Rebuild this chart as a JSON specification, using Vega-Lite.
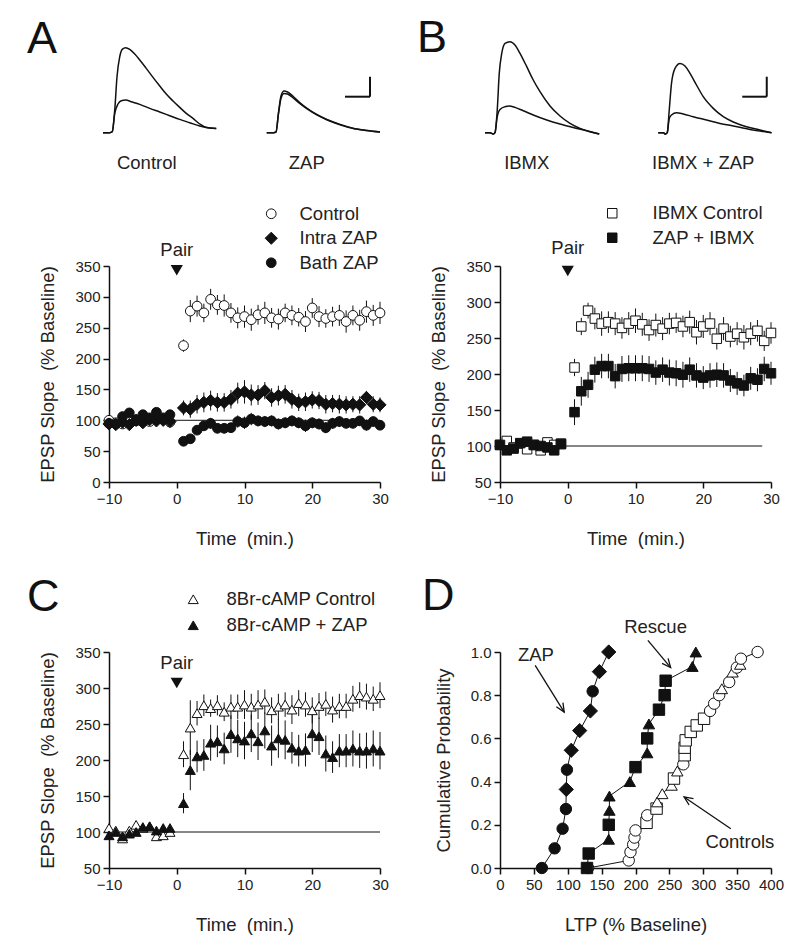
{
 "$schema": "https://vega.github.io/schema/vega-lite/v6.json",
 "background": "white",
 "padding": {"left": 27, "top": 15, "right": 5, "bottom": 5},
 "bounds": "flush",
 "columns": 2,
 "spacing": {"row": 170, "column": 120},
 "resolve": {"scale": {"shape": "independent", "fill": "independent", "stroke": "independent"}, "legend": {"shape": "independent", "fill": "independent", "stroke": "independent"}},
 "config": {
  "font": "Liberation Sans",
  "view": {"stroke": null},
  "axis": {"grid": false, "domainColor": "#111", "domainWidth": 1.5, "tickColor": "#111", "tickWidth": 1.5, "tickSize": 6, "labelFontSize": 15, "labelColor": "#222", "labelPadding": 3, "titleFontSize": 18.5, "titleFontWeight": "normal", "titleColor": "#222", "labelFont": "Liberation Sans", "titleFont": "Liberation Sans", "labelFlush": false, "labelOverlap": false, "labelBound": false},
  "axisX": {"titlePadding": 23},
  "axisY": {"titlePadding": 17},
  "legend": {"labelFontSize": 18.5, "labelColor": "#222", "labelFont": "Liberation Sans", "padding": 0, "symbolStrokeWidth": 1, "orient": "none", "direction": "vertical"},
  "title": {"fontSize": 45, "fontWeight": "normal", "color": "#111", "anchor": "start", "frame": "group", "baseline": "alphabetic", "font": "Liberation Sans"},
  "text": {"font": "Liberation Sans", "fontSize": 18.5, "color": "#222"}
 },
 "datasets": {
  "tr": [
   {"c":"Control","k":"post","t":0,"v":0},{"c":"Control","k":"post","t":2.7,"v":0},{"c":"Control","k":"post","t":3.7,"v":0.1},{"c":"Control","k":"post","t":4.7,"v":2.27},{"c":"Control","k":"post","t":5.6,"v":5.6},{"c":"Control","k":"post","t":6.7,"v":7.6},{"c":"Control","k":"post","t":7.7,"v":8.33},{"c":"Control","k":"post","t":9.1,"v":8.5},{"c":"Control","k":"post","t":10.7,"v":8.33},{"c":"Control","k":"post","t":12.7,"v":7.87},{"c":"Control","k":"post","t":14.7,"v":7.27},{"c":"Control","k":"post","t":17.3,"v":6.43},{"c":"Control","k":"post","t":20,"v":5.53},{"c":"Control","k":"post","t":22.7,"v":4.67},{"c":"Control","k":"post","t":25.3,"v":3.87},{"c":"Control","k":"post","t":28,"v":3.17},{"c":"Control","k":"post","t":30.7,"v":2.53},{"c":"Control","k":"post","t":33.3,"v":1.93},{"c":"Control","k":"post","t":36,"v":1.43},{"c":"Control","k":"post","t":38.7,"v":0.87},{"c":"Control","k":"post","t":41.3,"v":0.53},{"c":"Control","k":"post","t":45.3,"v":0.43},
   {"c":"Control","k":"pre","t":0,"v":0},{"c":"Control","k":"pre","t":2.7,"v":0},{"c":"Control","k":"pre","t":3.7,"v":0.1},{"c":"Control","k":"pre","t":4.7,"v":1.93},{"c":"Control","k":"pre","t":6,"v":2.87},{"c":"Control","k":"pre","t":7.3,"v":3.2},{"c":"Control","k":"pre","t":9.1,"v":3.27},{"c":"Control","k":"pre","t":11.3,"v":3.1},{"c":"Control","k":"pre","t":14.7,"v":2.83},{"c":"Control","k":"pre","t":18.7,"v":2.43},{"c":"Control","k":"pre","t":22.7,"v":2.07},{"c":"Control","k":"pre","t":26.7,"v":1.7},{"c":"Control","k":"pre","t":30.7,"v":1.33},{"c":"Control","k":"pre","t":34.7,"v":1.0},{"c":"Control","k":"pre","t":38.7,"v":0.67},{"c":"Control","k":"pre","t":42.7,"v":0.47},{"c":"Control","k":"pre","t":45.3,"v":0.43},
   {"c":"ZAP","k":"post","t":0,"v":0},{"c":"ZAP","k":"post","t":2.7,"v":0},{"c":"ZAP","k":"post","t":3.7,"v":0.07},{"c":"ZAP","k":"post","t":4.7,"v":2},{"c":"ZAP","k":"post","t":5.7,"v":3.67},{"c":"ZAP","k":"post","t":6.9,"v":4.17},{"c":"ZAP","k":"post","t":8.3,"v":4.07},{"c":"ZAP","k":"post","t":10.7,"v":3.6},{"c":"ZAP","k":"post","t":13.3,"v":3.0},{"c":"ZAP","k":"post","t":16,"v":2.47},{"c":"ZAP","k":"post","t":20,"v":1.83},{"c":"ZAP","k":"post","t":24,"v":1.33},{"c":"ZAP","k":"post","t":29.3,"v":0.83},{"c":"ZAP","k":"post","t":34.7,"v":0.43},{"c":"ZAP","k":"post","t":40,"v":0.23},{"c":"ZAP","k":"post","t":45.3,"v":0.07},
   {"c":"ZAP","k":"pre","t":0,"v":0},{"c":"ZAP","k":"pre","t":2.7,"v":0},{"c":"ZAP","k":"pre","t":3.7,"v":0.07},{"c":"ZAP","k":"pre","t":4.7,"v":1.9},{"c":"ZAP","k":"pre","t":5.7,"v":3.45},{"c":"ZAP","k":"pre","t":6.9,"v":3.93},{"c":"ZAP","k":"pre","t":8.3,"v":3.87},{"c":"ZAP","k":"pre","t":10.7,"v":3.45},{"c":"ZAP","k":"pre","t":13.3,"v":2.9},{"c":"ZAP","k":"pre","t":16,"v":2.4},{"c":"ZAP","k":"pre","t":20,"v":1.78},{"c":"ZAP","k":"pre","t":24,"v":1.3},{"c":"ZAP","k":"pre","t":29.3,"v":0.8},{"c":"ZAP","k":"pre","t":34.7,"v":0.42},{"c":"ZAP","k":"pre","t":40,"v":0.22},{"c":"ZAP","k":"pre","t":45.3,"v":0.07},
   {"c":"IBMX","k":"post","t":0,"v":0},{"c":"IBMX","k":"post","t":2,"v":0},{"c":"IBMX","k":"post","t":3.3,"v":-0.13},{"c":"IBMX","k":"post","t":4,"v":0},{"c":"IBMX","k":"post","t":4.9,"v":2.27},{"c":"IBMX","k":"post","t":5.7,"v":5.93},{"c":"IBMX","k":"post","t":6.7,"v":7.93},{"c":"IBMX","k":"post","t":8,"v":8.93},{"c":"IBMX","k":"post","t":10,"v":9.1},{"c":"IBMX","k":"post","t":12,"v":8.77},{"c":"IBMX","k":"post","t":14,"v":7.93},{"c":"IBMX","k":"post","t":16.7,"v":6.6},{"c":"IBMX","k":"post","t":19.3,"v":5.27},{"c":"IBMX","k":"post","t":22,"v":4.1},{"c":"IBMX","k":"post","t":26,"v":2.67},{"c":"IBMX","k":"post","t":30,"v":1.67},{"c":"IBMX","k":"post","t":34,"v":0.93},{"c":"IBMX","k":"post","t":38,"v":0.43},{"c":"IBMX","k":"post","t":42,"v":0.1},{"c":"IBMX","k":"post","t":45.7,"v":-0.13},
   {"c":"IBMX","k":"pre","t":0,"v":0},{"c":"IBMX","k":"pre","t":2,"v":0},{"c":"IBMX","k":"pre","t":3.3,"v":-0.13},{"c":"IBMX","k":"pre","t":4,"v":0},{"c":"IBMX","k":"pre","t":4.9,"v":1.6},{"c":"IBMX","k":"pre","t":6,"v":2.33},{"c":"IBMX","k":"pre","t":8,"v":2.6},{"c":"IBMX","k":"pre","t":9.7,"v":2.67},{"c":"IBMX","k":"pre","t":12,"v":2.53},{"c":"IBMX","k":"pre","t":15.3,"v":2.2},{"c":"IBMX","k":"pre","t":19.3,"v":1.77},{"c":"IBMX","k":"pre","t":24.7,"v":1.27},{"c":"IBMX","k":"pre","t":30,"v":0.87},{"c":"IBMX","k":"pre","t":35.3,"v":0.53},{"c":"IBMX","k":"pre","t":40.7,"v":0.2},{"c":"IBMX","k":"pre","t":45.7,"v":-0.13},
   {"c":"IBMX + ZAP","k":"post","t":0,"v":0},{"c":"IBMX + ZAP","k":"post","t":2,"v":0},{"c":"IBMX + ZAP","k":"post","t":2.9,"v":-0.13},{"c":"IBMX + ZAP","k":"post","t":3.6,"v":0},{"c":"IBMX + ZAP","k":"post","t":4.4,"v":2.27},{"c":"IBMX + ZAP","k":"post","t":5.3,"v":4.93},{"c":"IBMX + ZAP","k":"post","t":6.7,"v":6.43},{"c":"IBMX + ZAP","k":"post","t":8.7,"v":6.93},{"c":"IBMX + ZAP","k":"post","t":10.7,"v":6.67},{"c":"IBMX + ZAP","k":"post","t":12.7,"v":5.93},{"c":"IBMX + ZAP","k":"post","t":15.3,"v":4.77},{"c":"IBMX + ZAP","k":"post","t":18,"v":3.6},{"c":"IBMX + ZAP","k":"post","t":22,"v":2.43},{"c":"IBMX + ZAP","k":"post","t":26,"v":1.6},{"c":"IBMX + ZAP","k":"post","t":30,"v":1.07},{"c":"IBMX + ZAP","k":"post","t":35.3,"v":0.6},{"c":"IBMX + ZAP","k":"post","t":40.7,"v":0.27},{"c":"IBMX + ZAP","k":"post","t":45.3,"v":0},
   {"c":"IBMX + ZAP","k":"pre","t":0,"v":0},{"c":"IBMX + ZAP","k":"pre","t":2,"v":0},{"c":"IBMX + ZAP","k":"pre","t":2.9,"v":-0.13},{"c":"IBMX + ZAP","k":"pre","t":3.6,"v":0},{"c":"IBMX + ZAP","k":"pre","t":4.4,"v":1.43},{"c":"IBMX + ZAP","k":"pre","t":5.3,"v":1.77},{"c":"IBMX + ZAP","k":"pre","t":7.3,"v":2},{"c":"IBMX + ZAP","k":"pre","t":10,"v":1.87},{"c":"IBMX + ZAP","k":"pre","t":14,"v":1.6},{"c":"IBMX + ZAP","k":"pre","t":19.3,"v":1.27},{"c":"IBMX + ZAP","k":"pre","t":24.7,"v":0.93},{"c":"IBMX + ZAP","k":"pre","t":30,"v":0.67},{"c":"IBMX + ZAP","k":"pre","t":36.7,"v":0.33},{"c":"IBMX + ZAP","k":"pre","t":45.3,"v":0}
  ],
  "a": [
   {"s":"Control","t":-10,"v":100,"e":4},{"s":"Control","t":-9,"v":96,"e":4},{"s":"Control","t":-8,"v":94,"e":4},{"s":"Control","t":-7,"v":103,"e":4},{"s":"Control","t":-6,"v":99,"e":4},{"s":"Control","t":-5,"v":101,"e":4},{"s":"Control","t":-4,"v":98,"e":4},{"s":"Control","t":-3,"v":102,"e":4},{"s":"Control","t":-2,"v":104,"e":4},{"s":"Control","t":-1,"v":97,"e":4},
   {"s":"Control","t":1,"v":221,"e":10},{"s":"Control","t":2,"v":277,"e":18},{"s":"Control","t":3,"v":285,"e":17},{"s":"Control","t":4,"v":274,"e":15},{"s":"Control","t":5,"v":296,"e":17},{"s":"Control","t":6,"v":287,"e":16},{"s":"Control","t":7,"v":286,"e":18},{"s":"Control","t":8,"v":274,"e":16},{"s":"Control","t":9,"v":266,"e":17},{"s":"Control","t":10,"v":268,"e":18},{"s":"Control","t":11,"v":263,"e":18},{"s":"Control","t":12,"v":271,"e":16},{"s":"Control","t":13,"v":274,"e":18},{"s":"Control","t":14,"v":266,"e":16},{"s":"Control","t":15,"v":264,"e":17},{"s":"Control","t":16,"v":274,"e":15},{"s":"Control","t":17,"v":270,"e":16},{"s":"Control","t":18,"v":267,"e":15},{"s":"Control","t":19,"v":260,"e":17},{"s":"Control","t":20,"v":282,"e":16},{"s":"Control","t":21,"v":268,"e":17},{"s":"Control","t":22,"v":265,"e":15},{"s":"Control","t":23,"v":268,"e":16},{"s":"Control","t":24,"v":270,"e":17},{"s":"Control","t":25,"v":260,"e":18},{"s":"Control","t":26,"v":270,"e":16},{"s":"Control","t":27,"v":262,"e":17},{"s":"Control","t":28,"v":276,"e":18},{"s":"Control","t":29,"v":270,"e":17},{"s":"Control","t":30,"v":274,"e":18},
   {"s":"Intra ZAP","t":-10,"v":94,"e":5},{"s":"Intra ZAP","t":-9,"v":93,"e":5},{"s":"Intra ZAP","t":-8,"v":97,"e":5},{"s":"Intra ZAP","t":-7,"v":93,"e":5},{"s":"Intra ZAP","t":-6,"v":100,"e":5},{"s":"Intra ZAP","t":-5,"v":96,"e":5},{"s":"Intra ZAP","t":-4,"v":101,"e":5},{"s":"Intra ZAP","t":-3,"v":99,"e":5},{"s":"Intra ZAP","t":-2,"v":100,"e":5},{"s":"Intra ZAP","t":-1,"v":98,"e":5},
   {"s":"Intra ZAP","t":1,"v":120,"e":12},{"s":"Intra ZAP","t":2,"v":118,"e":14},{"s":"Intra ZAP","t":3,"v":126,"e":15},{"s":"Intra ZAP","t":4,"v":129,"e":16},{"s":"Intra ZAP","t":5,"v":132,"e":16},{"s":"Intra ZAP","t":6,"v":129,"e":15},{"s":"Intra ZAP","t":7,"v":129,"e":15},{"s":"Intra ZAP","t":8,"v":134,"e":15},{"s":"Intra ZAP","t":9,"v":144,"e":17},{"s":"Intra ZAP","t":10,"v":146,"e":19},{"s":"Intra ZAP","t":11,"v":141,"e":17},{"s":"Intra ZAP","t":12,"v":141,"e":16},{"s":"Intra ZAP","t":13,"v":148,"e":14},{"s":"Intra ZAP","t":14,"v":137,"e":15},{"s":"Intra ZAP","t":15,"v":140,"e":16},{"s":"Intra ZAP","t":16,"v":142,"e":15},{"s":"Intra ZAP","t":17,"v":134,"e":15},{"s":"Intra ZAP","t":18,"v":129,"e":14},{"s":"Intra ZAP","t":19,"v":130,"e":15},{"s":"Intra ZAP","t":20,"v":133,"e":14},{"s":"Intra ZAP","t":21,"v":132,"e":14},{"s":"Intra ZAP","t":22,"v":126,"e":15},{"s":"Intra ZAP","t":23,"v":127,"e":14},{"s":"Intra ZAP","t":24,"v":126,"e":15},{"s":"Intra ZAP","t":25,"v":125,"e":14},{"s":"Intra ZAP","t":26,"v":126,"e":13},{"s":"Intra ZAP","t":27,"v":125,"e":14},{"s":"Intra ZAP","t":28,"v":137,"e":10},{"s":"Intra ZAP","t":29,"v":126,"e":13},{"s":"Intra ZAP","t":30,"v":125,"e":12},
   {"s":"Bath ZAP","t":-10,"v":95,"e":6},{"s":"Bath ZAP","t":-9,"v":94,"e":6},{"s":"Bath ZAP","t":-8,"v":106,"e":6},{"s":"Bath ZAP","t":-7,"v":112,"e":6},{"s":"Bath ZAP","t":-6,"v":101,"e":6},{"s":"Bath ZAP","t":-5,"v":109,"e":6},{"s":"Bath ZAP","t":-4,"v":104,"e":6},{"s":"Bath ZAP","t":-3,"v":113,"e":6},{"s":"Bath ZAP","t":-2,"v":103,"e":6},{"s":"Bath ZAP","t":-1,"v":109,"e":6},
   {"s":"Bath ZAP","t":1,"v":66,"e":5},{"s":"Bath ZAP","t":2,"v":70,"e":5},{"s":"Bath ZAP","t":3,"v":84,"e":6},{"s":"Bath ZAP","t":4,"v":91,"e":8},{"s":"Bath ZAP","t":5,"v":95,"e":9},{"s":"Bath ZAP","t":6,"v":87,"e":8},{"s":"Bath ZAP","t":7,"v":87,"e":8},{"s":"Bath ZAP","t":8,"v":88,"e":8},{"s":"Bath ZAP","t":9,"v":98,"e":10},{"s":"Bath ZAP","t":10,"v":96,"e":10},{"s":"Bath ZAP","t":11,"v":102,"e":10},{"s":"Bath ZAP","t":12,"v":99,"e":9},{"s":"Bath ZAP","t":13,"v":98,"e":9},{"s":"Bath ZAP","t":14,"v":99,"e":9},{"s":"Bath ZAP","t":15,"v":94,"e":9},{"s":"Bath ZAP","t":16,"v":96,"e":9},{"s":"Bath ZAP","t":17,"v":99,"e":9},{"s":"Bath ZAP","t":18,"v":96,"e":9},{"s":"Bath ZAP","t":19,"v":91,"e":10},{"s":"Bath ZAP","t":20,"v":96,"e":9},{"s":"Bath ZAP","t":21,"v":94,"e":9},{"s":"Bath ZAP","t":22,"v":88,"e":9},{"s":"Bath ZAP","t":23,"v":95,"e":9},{"s":"Bath ZAP","t":24,"v":98,"e":9},{"s":"Bath ZAP","t":25,"v":95,"e":8},{"s":"Bath ZAP","t":26,"v":95,"e":8},{"s":"Bath ZAP","t":27,"v":99,"e":8},{"s":"Bath ZAP","t":28,"v":92,"e":9},{"s":"Bath ZAP","t":29,"v":98,"e":8},{"s":"Bath ZAP","t":30,"v":92,"e":8}
  ],
  "b": [
   {"s":"IBMX Control","t":-10,"v":101.5,"e":4},{"s":"IBMX Control","t":-9,"v":107,"e":4},{"s":"IBMX Control","t":-8,"v":98,"e":4},{"s":"IBMX Control","t":-7,"v":103.4,"e":4},{"s":"IBMX Control","t":-6,"v":95.5,"e":4},{"s":"IBMX Control","t":-5,"v":101.5,"e":4},{"s":"IBMX Control","t":-4,"v":94,"e":4},{"s":"IBMX Control","t":-3,"v":105,"e":4},{"s":"IBMX Control","t":-2,"v":101.5,"e":4},{"s":"IBMX Control","t":-1,"v":103.4,"e":4},
   {"s":"IBMX Control","t":1,"v":209,"e":12},{"s":"IBMX Control","t":2,"v":266,"e":12},{"s":"IBMX Control","t":3,"v":288,"e":11},{"s":"IBMX Control","t":4,"v":277,"e":15},{"s":"IBMX Control","t":5,"v":270,"e":17},{"s":"IBMX Control","t":6,"v":272,"e":15},{"s":"IBMX Control","t":7,"v":270,"e":16},{"s":"IBMX Control","t":8,"v":264,"e":15},{"s":"IBMX Control","t":9,"v":270,"e":16},{"s":"IBMX Control","t":10,"v":274,"e":17},{"s":"IBMX Control","t":11,"v":269,"e":16},{"s":"IBMX Control","t":12,"v":261,"e":15},{"s":"IBMX Control","t":13,"v":268,"e":16},{"s":"IBMX Control","t":14,"v":263,"e":16},{"s":"IBMX Control","t":15,"v":270,"e":15},{"s":"IBMX Control","t":16,"v":271,"e":14},{"s":"IBMX Control","t":17,"v":266,"e":15},{"s":"IBMX Control","t":18,"v":272,"e":16},{"s":"IBMX Control","t":19,"v":258,"e":17},{"s":"IBMX Control","t":20,"v":266,"e":16},{"s":"IBMX Control","t":21,"v":270,"e":16},{"s":"IBMX Control","t":22,"v":249,"e":15},{"s":"IBMX Control","t":23,"v":263,"e":16},{"s":"IBMX Control","t":24,"v":252,"e":15},{"s":"IBMX Control","t":25,"v":256,"e":16},{"s":"IBMX Control","t":26,"v":251,"e":17},{"s":"IBMX Control","t":27,"v":256,"e":16},{"s":"IBMX Control","t":28,"v":260,"e":15},{"s":"IBMX Control","t":29,"v":246,"e":14},{"s":"IBMX Control","t":30,"v":257,"e":15},
   {"s":"ZAP + IBMX","t":-10,"v":101.5,"e":4},{"s":"ZAP + IBMX","t":-9,"v":94,"e":4},{"s":"ZAP + IBMX","t":-8,"v":96.4,"e":4},{"s":"ZAP + IBMX","t":-7,"v":104,"e":4},{"s":"ZAP + IBMX","t":-6,"v":106,"e":4},{"s":"ZAP + IBMX","t":-5,"v":101.5,"e":4},{"s":"ZAP + IBMX","t":-4,"v":100,"e":4},{"s":"ZAP + IBMX","t":-3,"v":98,"e":4},{"s":"ZAP + IBMX","t":-2,"v":94,"e":4},{"s":"ZAP + IBMX","t":-1,"v":102.5,"e":4},
   {"s":"ZAP + IBMX","t":1,"v":147,"e":18},{"s":"ZAP + IBMX","t":2,"v":176,"e":20},{"s":"ZAP + IBMX","t":3,"v":185,"e":18},{"s":"ZAP + IBMX","t":4,"v":206,"e":18},{"s":"ZAP + IBMX","t":5,"v":211,"e":17},{"s":"ZAP + IBMX","t":6,"v":211,"e":17},{"s":"ZAP + IBMX","t":7,"v":197,"e":17},{"s":"ZAP + IBMX","t":8,"v":207,"e":18},{"s":"ZAP + IBMX","t":9,"v":208,"e":18},{"s":"ZAP + IBMX","t":10,"v":208,"e":18},{"s":"ZAP + IBMX","t":11,"v":208,"e":18},{"s":"ZAP + IBMX","t":12,"v":207,"e":18},{"s":"ZAP + IBMX","t":13,"v":202,"e":17},{"s":"ZAP + IBMX","t":14,"v":206,"e":17},{"s":"ZAP + IBMX","t":15,"v":202,"e":18},{"s":"ZAP + IBMX","t":16,"v":201,"e":18},{"s":"ZAP + IBMX","t":17,"v":199,"e":18},{"s":"ZAP + IBMX","t":18,"v":206,"e":17},{"s":"ZAP + IBMX","t":19,"v":198,"e":17},{"s":"ZAP + IBMX","t":20,"v":195,"e":16},{"s":"ZAP + IBMX","t":21,"v":198,"e":17},{"s":"ZAP + IBMX","t":22,"v":199,"e":17},{"s":"ZAP + IBMX","t":23,"v":198,"e":17},{"s":"ZAP + IBMX","t":24,"v":191,"e":16},{"s":"ZAP + IBMX","t":25,"v":187,"e":16},{"s":"ZAP + IBMX","t":26,"v":184,"e":15},{"s":"ZAP + IBMX","t":27,"v":194,"e":16},{"s":"ZAP + IBMX","t":28,"v":192,"e":16},{"s":"ZAP + IBMX","t":29,"v":207,"e":17},{"s":"ZAP + IBMX","t":30,"v":201,"e":16}
  ],
  "c": [
   {"s":"8Br-cAMP Control","t":-10,"v":105.6,"e":4},{"s":"8Br-cAMP Control","t":-9,"v":102,"e":4},{"s":"8Br-cAMP Control","t":-8,"v":91,"e":4},{"s":"8Br-cAMP Control","t":-7,"v":102,"e":4},{"s":"8Br-cAMP Control","t":-6,"v":110,"e":4},{"s":"8Br-cAMP Control","t":-5,"v":105.6,"e":4},{"s":"8Br-cAMP Control","t":-4,"v":108,"e":4},{"s":"8Br-cAMP Control","t":-3,"v":94,"e":4},{"s":"8Br-cAMP Control","t":-2,"v":95.4,"e":4},{"s":"8Br-cAMP Control","t":-1,"v":100,"e":4},
   {"s":"8Br-cAMP Control","t":1,"v":208,"e":18},{"s":"8Br-cAMP Control","t":2,"v":245,"e":38},{"s":"8Br-cAMP Control","t":3,"v":265,"e":17},{"s":"8Br-cAMP Control","t":4,"v":276,"e":15},{"s":"8Br-cAMP Control","t":5,"v":272,"e":12},{"s":"8Br-cAMP Control","t":6,"v":276,"e":14},{"s":"8Br-cAMP Control","t":7,"v":267,"e":13},{"s":"8Br-cAMP Control","t":8,"v":274,"e":17},{"s":"8Br-cAMP Control","t":9,"v":274,"e":17},{"s":"8Br-cAMP Control","t":10,"v":277,"e":20},{"s":"8Br-cAMP Control","t":11,"v":274,"e":18},{"s":"8Br-cAMP Control","t":12,"v":277,"e":20},{"s":"8Br-cAMP Control","t":13,"v":281,"e":17},{"s":"8Br-cAMP Control","t":14,"v":269,"e":18},{"s":"8Br-cAMP Control","t":15,"v":274,"e":18},{"s":"8Br-cAMP Control","t":16,"v":277,"e":17},{"s":"8Br-cAMP Control","t":17,"v":270,"e":20},{"s":"8Br-cAMP Control","t":18,"v":279,"e":18},{"s":"8Br-cAMP Control","t":19,"v":277,"e":17},{"s":"8Br-cAMP Control","t":20,"v":269,"e":18},{"s":"8Br-cAMP Control","t":21,"v":275,"e":18},{"s":"8Br-cAMP Control","t":22,"v":278,"e":17},{"s":"8Br-cAMP Control","t":23,"v":270,"e":18},{"s":"8Br-cAMP Control","t":24,"v":275,"e":17},{"s":"8Br-cAMP Control","t":25,"v":275,"e":17},{"s":"8Br-cAMP Control","t":26,"v":285,"e":18},{"s":"8Br-cAMP Control","t":27,"v":290,"e":18},{"s":"8Br-cAMP Control","t":28,"v":288,"e":18},{"s":"8Br-cAMP Control","t":29,"v":285,"e":17},{"s":"8Br-cAMP Control","t":30,"v":290,"e":18},
   {"s":"8Br-cAMP + ZAP","t":-10,"v":95.4,"e":4},{"s":"8Br-cAMP + ZAP","t":-9,"v":100,"e":4},{"s":"8Br-cAMP + ZAP","t":-8,"v":94,"e":4},{"s":"8Br-cAMP + ZAP","t":-7,"v":97.7,"e":4},{"s":"8Br-cAMP + ZAP","t":-6,"v":100,"e":4},{"s":"8Br-cAMP + ZAP","t":-5,"v":107,"e":4},{"s":"8Br-cAMP + ZAP","t":-4,"v":108,"e":4},{"s":"8Br-cAMP + ZAP","t":-3,"v":102,"e":4},{"s":"8Br-cAMP + ZAP","t":-2,"v":105.6,"e":4},{"s":"8Br-cAMP + ZAP","t":-1,"v":105.6,"e":4},
   {"s":"8Br-cAMP + ZAP","t":1,"v":140,"e":14},{"s":"8Br-cAMP + ZAP","t":2,"v":186,"e":28},{"s":"8Br-cAMP + ZAP","t":3,"v":205,"e":22},{"s":"8Br-cAMP + ZAP","t":4,"v":207,"e":22},{"s":"8Br-cAMP + ZAP","t":5,"v":224,"e":25},{"s":"8Br-cAMP + ZAP","t":6,"v":226,"e":22},{"s":"8Br-cAMP + ZAP","t":7,"v":216,"e":22},{"s":"8Br-cAMP + ZAP","t":8,"v":236,"e":26},{"s":"8Br-cAMP + ZAP","t":9,"v":230,"e":26},{"s":"8Br-cAMP + ZAP","t":10,"v":227,"e":26},{"s":"8Br-cAMP + ZAP","t":11,"v":237,"e":26},{"s":"8Br-cAMP + ZAP","t":12,"v":226,"e":26},{"s":"8Br-cAMP + ZAP","t":13,"v":241,"e":25},{"s":"8Br-cAMP + ZAP","t":14,"v":220,"e":28},{"s":"8Br-cAMP + ZAP","t":15,"v":230,"e":27},{"s":"8Br-cAMP + ZAP","t":16,"v":228,"e":27},{"s":"8Br-cAMP + ZAP","t":17,"v":217,"e":22},{"s":"8Br-cAMP + ZAP","t":18,"v":213,"e":22},{"s":"8Br-cAMP + ZAP","t":19,"v":214,"e":23},{"s":"8Br-cAMP + ZAP","t":20,"v":237,"e":26},{"s":"8Br-cAMP + ZAP","t":21,"v":233,"e":26},{"s":"8Br-cAMP + ZAP","t":22,"v":209,"e":25},{"s":"8Br-cAMP + ZAP","t":23,"v":204,"e":22},{"s":"8Br-cAMP + ZAP","t":24,"v":213,"e":23},{"s":"8Br-cAMP + ZAP","t":25,"v":213,"e":23},{"s":"8Br-cAMP + ZAP","t":26,"v":216,"e":25},{"s":"8Br-cAMP + ZAP","t":27,"v":213,"e":24},{"s":"8Br-cAMP + ZAP","t":28,"v":213,"e":25},{"s":"8Br-cAMP + ZAP","t":29,"v":216,"e":25},{"s":"8Br-cAMP + ZAP","t":30,"v":213,"e":26}
  ],
  "d": [
   {"g":"Controls","s":"Control","x":130,"y":0},{"g":"Controls","s":"Control","x":190,"y":0.035},{"g":"Controls","s":"Control","x":192.6,"y":0.074},{"g":"Controls","s":"Control","x":196.6,"y":0.109},{"g":"Controls","s":"Control","x":198.5,"y":0.141},{"g":"Controls","s":"Control","x":200,"y":0.174},{"g":"Controls","s":"IBMX Control","x":216.3,"y":0.209},{"g":"Controls","s":"Control","x":217.3,"y":0.244},{"g":"Controls","s":"IBMX Control","x":231.1,"y":0.275},{"g":"Controls","s":"8Br-cAMP Control","x":232.1,"y":0.306},{"g":"Controls","s":"8Br-cAMP Control","x":239.5,"y":0.344},{"g":"Controls","s":"8Br-cAMP Control","x":253.3,"y":0.383},{"g":"Controls","s":"IBMX Control","x":256.8,"y":0.414},{"g":"Controls","s":"8Br-cAMP Control","x":261.7,"y":0.449},{"g":"Controls","s":"Control","x":270.6,"y":0.48},{"g":"Controls","s":"IBMX Control","x":272.6,"y":0.522},{"g":"Controls","s":"IBMX Control","x":272.6,"y":0.557},{"g":"Controls","s":"IBMX Control","x":274.1,"y":0.591},{"g":"Controls","s":"IBMX Control","x":281.5,"y":0.63},{"g":"Controls","s":"IBMX Control","x":290.4,"y":0.66},{"g":"Controls","s":"IBMX Control","x":301.2,"y":0.691},{"g":"Controls","s":"Control","x":310.1,"y":0.727},{"g":"Controls","s":"Control","x":316.1,"y":0.761},{"g":"Controls","s":"Control","x":323.5,"y":0.8},{"g":"Controls","s":"8Br-cAMP Control","x":327.4,"y":0.83},{"g":"Controls","s":"Control","x":338.3,"y":0.861},{"g":"Controls","s":"8Br-cAMP Control","x":343.2,"y":0.907},{"g":"Controls","s":"Control","x":349.6,"y":0.928},{"g":"Controls","s":"8Br-cAMP Control","x":354.6,"y":0.943},{"g":"Controls","s":"Control","x":355.6,"y":0.969},{"g":"Controls","s":"Control","x":380.2,"y":1.0},
   {"g":"ZAP","s":"Bath ZAP","x":61.8,"y":0},{"g":"ZAP","s":"Bath ZAP","x":80.6,"y":0.091},{"g":"ZAP","s":"Bath ZAP","x":92.4,"y":0.182},{"g":"ZAP","s":"Bath ZAP","x":97.3,"y":0.273},{"g":"ZAP","s":"Intra ZAP","x":97.8,"y":0.364},{"g":"ZAP","s":"Bath ZAP","x":98.8,"y":0.455},{"g":"ZAP","s":"Intra ZAP","x":105.2,"y":0.545},{"g":"ZAP","s":"Intra ZAP","x":117.6,"y":0.636},{"g":"ZAP","s":"Intra ZAP","x":133.4,"y":0.727},{"g":"ZAP","s":"Bath ZAP","x":136.8,"y":0.818},{"g":"ZAP","s":"Intra ZAP","x":146.7,"y":0.909},{"g":"ZAP","s":"Intra ZAP","x":160.5,"y":1.0},
   {"g":"Rescue","s":"ZAP + IBMX","x":128.4,"y":0},{"g":"Rescue","s":"ZAP + IBMX","x":130.9,"y":0.067},{"g":"Rescue","s":"8Br-cAMP + ZAP","x":160.5,"y":0.133},{"g":"Rescue","s":"ZAP + IBMX","x":160.5,"y":0.2},{"g":"Rescue","s":"8Br-cAMP + ZAP","x":161.5,"y":0.267},{"g":"Rescue","s":"8Br-cAMP + ZAP","x":161.5,"y":0.333},{"g":"Rescue","s":"8Br-cAMP + ZAP","x":191.6,"y":0.4},{"g":"Rescue","s":"ZAP + IBMX","x":200,"y":0.467},{"g":"Rescue","s":"8Br-cAMP + ZAP","x":217.3,"y":0.533},{"g":"Rescue","s":"ZAP + IBMX","x":217.3,"y":0.6},{"g":"Rescue","s":"8Br-cAMP + ZAP","x":219.8,"y":0.667},{"g":"Rescue","s":"ZAP + IBMX","x":234.6,"y":0.733},{"g":"Rescue","s":"ZAP + IBMX","x":243,"y":0.8},{"g":"Rescue","s":"ZAP + IBMX","x":244.5,"y":0.867},{"g":"Rescue","s":"8Br-cAMP + ZAP","x":284,"y":0.933},{"g":"Rescue","s":"8Br-cAMP + ZAP","x":289,"y":1.0}
  ]
 },
 "concat": [
  {
   "width": 271, "height": 56,
   "title": {"text": "A", "dx": -82, "offset": -22},
   "layer": [
    {"layer": [
     {"data": {"name": "tr"}, "transform": [{"filter": "datum.c === 'Control'"}],
      "mark": {"type": "line", "color": "#111", "strokeWidth": 1.5, "interpolate": "monotone"},
      "encoding": {
       "x": {"field": "t", "type": "quantitative", "scale": {"domain": [2.4, 110.8], "nice": false, "zero": false}, "axis": null},
       "y": {"field": "v", "type": "quantitative", "scale": {"domain": [3.67, 9.27], "nice": false, "zero": false}, "axis": null},
       "detail": {"field": "k"}}},
     {"data": {"values": [{}]}, "mark": {"type": "text"},
      "encoding": {"x": {"datum": 17.5}, "y": {"datum": -3}, "text": {"value": "Control"}}}
    ]},
    {"layer": [
     {"data": {"name": "tr"}, "transform": [{"filter": "datum.c === 'ZAP'"}],
      "mark": {"type": "line", "color": "#111", "strokeWidth": 1.5, "interpolate": "monotone"},
      "encoding": {
       "x": {"field": "t", "type": "quantitative", "scale": {"domain": [-63.1, 45.3], "nice": false, "zero": false}, "axis": null},
       "y": {"field": "v", "type": "quantitative", "scale": {"domain": [3.67, 9.27], "nice": false, "zero": false}, "axis": null},
       "detail": {"field": "k"}}},
     {"data": {"values": [{}]}, "mark": {"type": "text"},
      "encoding": {"x": {"datum": 16}, "y": {"datum": -3}, "text": {"value": "ZAP"}}},
     {"data": {"values": [{}]}, "mark": {"type": "rule", "color": "#111", "strokeWidth": 2},
      "encoding": {"x": {"datum": 31.3}, "x2": {"datum": 41.3}, "y": {"datum": 3.6}}},
     {"data": {"values": [{}]}, "mark": {"type": "rule", "color": "#111", "strokeWidth": 2},
      "encoding": {"x": {"datum": 41.3}, "y": {"datum": 3.6}, "y2": {"datum": 5.6}}}
    ]}
   ],
   "resolve": {"scale": {"x": "independent"}}
  },
  {
   "width": 271, "height": 56,
   "title": {"text": "B", "dx": -83, "offset": -22},
   "layer": [
    {"layer": [
     {"data": {"name": "tr"}, "transform": [{"filter": "datum.c === 'IBMX'"}],
      "mark": {"type": "line", "color": "#111", "strokeWidth": 1.5, "interpolate": "monotone"},
      "encoding": {
       "x": {"field": "t", "type": "quantitative", "scale": {"domain": [6, 114.4], "nice": false, "zero": false}, "axis": null},
       "y": {"field": "v", "type": "quantitative", "scale": {"domain": [3.67, 9.27], "nice": false, "zero": false}, "axis": null},
       "detail": {"field": "k"}}},
     {"data": {"values": [{}]}, "mark": {"type": "text"},
      "encoding": {"x": {"datum": 16.7}, "y": {"datum": -3}, "text": {"value": "IBMX"}}}
    ]},
    {"layer": [
     {"data": {"name": "tr"}, "transform": [{"filter": "datum.c === 'IBMX + ZAP'"}],
      "mark": {"type": "line", "color": "#111", "strokeWidth": 1.5, "interpolate": "monotone"},
      "encoding": {
       "x": {"field": "t", "type": "quantitative", "scale": {"domain": [-63.3, 45.1], "nice": false, "zero": false}, "axis": null},
       "y": {"field": "v", "type": "quantitative", "scale": {"domain": [3.67, 9.27], "nice": false, "zero": false}, "axis": null},
       "detail": {"field": "k"}}},
     {"data": {"values": [{}]}, "mark": {"type": "text"},
      "encoding": {"x": {"datum": 18}, "y": {"datum": -3}, "text": {"value": "IBMX + ZAP"}}},
     {"data": {"values": [{}]}, "mark": {"type": "rule", "color": "#111", "strokeWidth": 2},
      "encoding": {"x": {"datum": 33.6}, "x2": {"datum": 43.4}, "y": {"datum": 3.6}}},
     {"data": {"values": [{}]}, "mark": {"type": "rule", "color": "#111", "strokeWidth": 2},
      "encoding": {"x": {"datum": 43.4}, "y": {"datum": 3.6}, "y2": {"datum": 5.6}}}
    ]}
   ],
   "resolve": {"scale": {"x": "independent"}}
  },
  {
   "width": 271, "height": 216,
   "data": {"name": "a"},
   "layer": [
    {"mark": {"type": "errorbar", "color": "#111", "thickness": 1},
     "encoding": {
      "x": {"field": "t", "type": "quantitative", "title": "Time\u00a0\u00a0(min.)", "scale": {"domain": [-10, 30], "nice": false, "zero": false}, "axis": {"values": [-10, 0, 10, 20, 30], "tickCount": 20}},
      "y": {"field": "v", "type": "quantitative", "title": "EPSP Slope\u00a0\u00a0(% Baseline)", "scale": {"domain": [0, 350], "nice": false, "zero": false}, "axis": {"values": [0, 50, 100, 150, 200, 250, 300, 350], "tickCount": 20}},
      "yError": {"field": "e"}}},
    {"data": {"values": [{}]}, "mark": {"type": "rule", "color": "#111", "strokeWidth": 1},
     "encoding": {"x": {"datum": -10}, "x2": {"datum": 30}, "y": {"datum": 100}}},
    {"mark": {"type": "point", "filled": true, "strokeWidth": 1, "opacity": 1, "size": 95},
     "encoding": {
      "x": {"field": "t", "type": "quantitative", "title": "Time\u00a0\u00a0(min.)", "axis": {"values": [-10, 0, 10, 20, 30], "tickCount": 20}},
      "y": {"field": "v", "type": "quantitative", "title": "EPSP Slope\u00a0\u00a0(% Baseline)", "axis": {"values": [0, 50, 100, 150, 200, 250, 300, 350], "tickCount": 20}},
      "shape": {"field": "s", "type": "nominal", "scale": {"domain": ["Control", "Intra ZAP", "Bath ZAP"], "range": ["circle", "M0,-1.25L1.25,0L0,1.25L-1.25,0Z", "circle"]},
       "legend": {"title": null, "legendX": 153, "legendY": -61.5, "labelOffset": 19, "rowPadding": 5.5, "symbolSize": 95}},
      "fill": {"field": "s", "type": "nominal", "scale": {"domain": ["Control", "Intra ZAP", "Bath ZAP"], "range": ["white", "#111", "#111"]}},
      "stroke": {"field": "s", "type": "nominal", "scale": {"domain": ["Control", "Intra ZAP", "Bath ZAP"], "range": ["#111", "#111", "#111"]}}}},
    {"data": {"values": [{}]}, "mark": {"type": "text", "baseline": "alphabetic"},
     "encoding": {"x": {"datum": 0}, "y": {"datum": 366}, "text": {"value": "Pair"}}},
    {"data": {"values": [{}]}, "mark": {"type": "point", "shape": "triangle-down", "filled": true, "color": "#111", "size": 150, "opacity": 1},
     "encoding": {"x": {"datum": 0}, "y": {"datum": 343}}}
   ]
  },
  {
   "width": 271, "height": 216,
   "data": {"name": "b"},
   "layer": [
    {"mark": {"type": "errorbar", "color": "#111", "thickness": 1},
     "encoding": {
      "x": {"field": "t", "type": "quantitative", "title": "Time\u00a0\u00a0(min.)", "scale": {"domain": [-10, 30], "nice": false, "zero": false}, "axis": {"values": [-10, 0, 10, 20, 30], "tickCount": 20}},
      "y": {"field": "v", "type": "quantitative", "title": "EPSP Slope\u00a0\u00a0(% Baseline)", "scale": {"domain": [50, 350], "nice": false, "zero": false}, "axis": {"values": [50, 100, 150, 200, 250, 300, 350], "tickCount": 20}},
      "yError": {"field": "e"}}},
    {"data": {"values": [{}]}, "mark": {"type": "rule", "color": "#111", "strokeWidth": 1},
     "encoding": {"x": {"datum": -10}, "x2": {"datum": 28.7}, "y": {"datum": 100}}},
    {"mark": {"type": "point", "filled": true, "strokeWidth": 1, "opacity": 1, "size": 90},
     "encoding": {
      "x": {"field": "t", "type": "quantitative", "title": "Time\u00a0\u00a0(min.)", "axis": {"values": [-10, 0, 10, 20, 30], "tickCount": 20}},
      "y": {"field": "v", "type": "quantitative", "title": "EPSP Slope\u00a0\u00a0(% Baseline)", "axis": {"values": [50, 100, 150, 200, 250, 300, 350], "tickCount": 20}},
      "shape": {"field": "s", "type": "nominal", "scale": {"domain": ["IBMX Control", "ZAP + IBMX"], "range": ["square", "square"]},
       "legend": {"title": null, "legendX": 103, "legendY": -62, "labelOffset": 31, "rowPadding": 5.5, "symbolSize": 90}},
      "fill": {"field": "s", "type": "nominal", "scale": {"domain": ["IBMX Control", "ZAP + IBMX"], "range": ["white", "#111"]}},
      "stroke": {"field": "s", "type": "nominal", "scale": {"domain": ["IBMX Control", "ZAP + IBMX"], "range": ["#111", "#111"]}}}},
    {"data": {"values": [{}]}, "mark": {"type": "text", "baseline": "alphabetic"},
     "encoding": {"x": {"datum": 0}, "y": {"datum": 367}, "text": {"value": "Pair"}}},
    {"data": {"values": [{}]}, "mark": {"type": "point", "shape": "triangle-down", "filled": true, "color": "#111", "size": 150, "opacity": 1},
     "encoding": {"x": {"datum": 0}, "y": {"datum": 343}}}
   ]
  },
  {
   "width": 271, "height": 216,
   "title": {"text": "C", "dx": -82, "offset": -30},
   "data": {"name": "c"},
   "layer": [
    {"mark": {"type": "errorbar", "color": "#111", "thickness": 1},
     "encoding": {
      "x": {"field": "t", "type": "quantitative", "title": "Time\u00a0\u00a0(min.)", "scale": {"domain": [-10, 30], "nice": false, "zero": false}, "axis": {"values": [-10, 0, 10, 20, 30], "tickCount": 20}},
      "y": {"field": "v", "type": "quantitative", "title": "EPSP Slope\u00a0\u00a0(% Baseline)", "scale": {"domain": [50, 350], "nice": false, "zero": false}, "axis": {"values": [50, 100, 150, 200, 250, 300, 350], "tickCount": 20}},
      "yError": {"field": "e"}}},
    {"data": {"values": [{}]}, "mark": {"type": "rule", "color": "#111", "strokeWidth": 1},
     "encoding": {"x": {"datum": -10}, "x2": {"datum": 30}, "y": {"datum": 100}}},
    {"mark": {"type": "point", "filled": true, "strokeWidth": 1, "opacity": 1, "size": 100},
     "encoding": {
      "x": {"field": "t", "type": "quantitative", "title": "Time\u00a0\u00a0(min.)", "axis": {"values": [-10, 0, 10, 20, 30], "tickCount": 20}},
      "y": {"field": "v", "type": "quantitative", "title": "EPSP Slope\u00a0\u00a0(% Baseline)", "axis": {"values": [50, 100, 150, 200, 250, 300, 350], "tickCount": 20}},
      "shape": {"field": "s", "type": "nominal", "scale": {"domain": ["8Br-cAMP Control", "8Br-cAMP + ZAP"], "range": ["triangle-up", "triangle-up"]},
       "legend": {"title": null, "legendX": 75, "legendY": -62, "labelOffset": 24, "rowPadding": 7, "symbolSize": 100}},
      "fill": {"field": "s", "type": "nominal", "scale": {"domain": ["8Br-cAMP Control", "8Br-cAMP + ZAP"], "range": ["white", "#111"]}},
      "stroke": {"field": "s", "type": "nominal", "scale": {"domain": ["8Br-cAMP Control", "8Br-cAMP + ZAP"], "range": ["#111", "#111"]}}}},
    {"data": {"values": [{}]}, "mark": {"type": "text", "baseline": "alphabetic"},
     "encoding": {"x": {"datum": 0}, "y": {"datum": 326}, "text": {"value": "Pair"}}},
    {"data": {"values": [{}]}, "mark": {"type": "point", "shape": "triangle-down", "filled": true, "color": "#111", "size": 150, "opacity": 1},
     "encoding": {"x": {"datum": 0}, "y": {"datum": 307}}}
   ]
  },
  {
   "width": 271, "height": 216,
   "title": {"text": "D", "dx": -78, "offset": -1},
   "data": {"name": "d"},
   "layer": [
    {"mark": {"type": "line", "color": "#111", "strokeWidth": 1},
     "encoding": {
      "x": {"field": "x", "type": "quantitative", "title": "LTP (% Baseline)", "scale": {"domain": [0, 400], "nice": false}, "axis": {"values": [0, 50, 100, 150, 200, 250, 300, 350, 400], "tickCount": 20}},
      "y": {"field": "y", "type": "quantitative", "title": "Cumulative Probability", "scale": {"domain": [0, 1], "nice": false}, "axis": {"values": [0, 0.2, 0.4, 0.6, 0.8, 1.0], "format": ".1f", "tickCount": 20}},
      "detail": {"field": "g"},
      "order": {"field": "y"}}},
    {"mark": {"type": "point", "filled": true, "stroke": "#111", "strokeWidth": 1, "opacity": 1, "size": 130},
     "encoding": {
      "x": {"field": "x", "type": "quantitative", "title": "LTP (% Baseline)", "axis": {"values": [0, 50, 100, 150, 200, 250, 300, 350, 400], "tickCount": 20}},
      "y": {"field": "y", "type": "quantitative", "title": "Cumulative Probability", "axis": {"values": [0, 0.2, 0.4, 0.6, 0.8, 1.0], "format": ".1f", "tickCount": 20}},
      "shape": {"field": "s", "type": "nominal", "legend": null, "scale": {"domain": ["Control", "Intra ZAP", "Bath ZAP", "IBMX Control", "ZAP + IBMX", "8Br-cAMP Control", "8Br-cAMP + ZAP"], "range": ["circle", "M0,-1.25L1.25,0L0,1.25L-1.25,0Z", "circle", "square", "square", "triangle-up", "triangle-up"]}},
      "fill": {"field": "s", "type": "nominal", "legend": null, "scale": {"domain": ["Control", "Intra ZAP", "Bath ZAP", "IBMX Control", "ZAP + IBMX", "8Br-cAMP Control", "8Br-cAMP + ZAP"], "range": ["white", "#111", "#111", "white", "#111", "white", "#111"]}}}},
    {"data": {"values": [{}]}, "mark": {"type": "text", "baseline": "middle"},
     "encoding": {"x": {"datum": 53}, "y": {"datum": 0.985}, "text": {"value": "ZAP"}}},
    {"data": {"values": [{}]}, "mark": {"type": "rule", "color": "#111", "strokeWidth": 1.3},
     "encoding": {"x": {"datum": 51.9}, "y": {"datum": 0.938}, "x2": {"datum": 94.8}, "y2": {"datum": 0.722}}},
    {"data": {"values": [{}]}, "mark": {"type": "point", "shape": "M-1,-0.45L0,0L-1,0.45", "filled": false, "color": "#111", "strokeWidth": 1.3, "size": 300, "angle": 58, "opacity": 1},
     "encoding": {"x": {"datum": 94.8}, "y": {"datum": 0.722}}},
    {"data": {"values": [{}]}, "mark": {"type": "text", "baseline": "middle"},
     "encoding": {"x": {"datum": 229.6}, "y": {"datum": 1.116}, "text": {"value": "Rescue"}}},
    {"data": {"values": [{}]}, "mark": {"type": "rule", "color": "#111", "strokeWidth": 1.3},
     "encoding": {"x": {"datum": 218.3}, "y": {"datum": 1.054}, "x2": {"datum": 251.9}, "y2": {"datum": 0.928}}},
    {"data": {"values": [{}]}, "mark": {"type": "point", "shape": "M-1,-0.45L0,0L-1,0.45", "filled": false, "color": "#111", "strokeWidth": 1.3, "size": 300, "angle": 50, "opacity": 1},
     "encoding": {"x": {"datum": 251.9}, "y": {"datum": 0.928}}},
    {"data": {"values": [{}]}, "mark": {"type": "text", "baseline": "middle"},
     "encoding": {"x": {"datum": 354}, "y": {"datum": 0.12}, "text": {"value": "Controls"}}},
    {"data": {"values": [{}]}, "mark": {"type": "rule", "color": "#111", "strokeWidth": 1.3},
     "encoding": {"x": {"datum": 340.7}, "y": {"datum": 0.182}, "x2": {"datum": 271.7}, "y2": {"datum": 0.329}}},
    {"data": {"values": [{}]}, "mark": {"type": "point", "shape": "M-1,-0.45L0,0L-1,0.45", "filled": false, "color": "#111", "strokeWidth": 1.3, "size": 300, "angle": 214, "opacity": 1},
     "encoding": {"x": {"datum": 271.7}, "y": {"datum": 0.329}}}
   ]
  }
 ]
}
